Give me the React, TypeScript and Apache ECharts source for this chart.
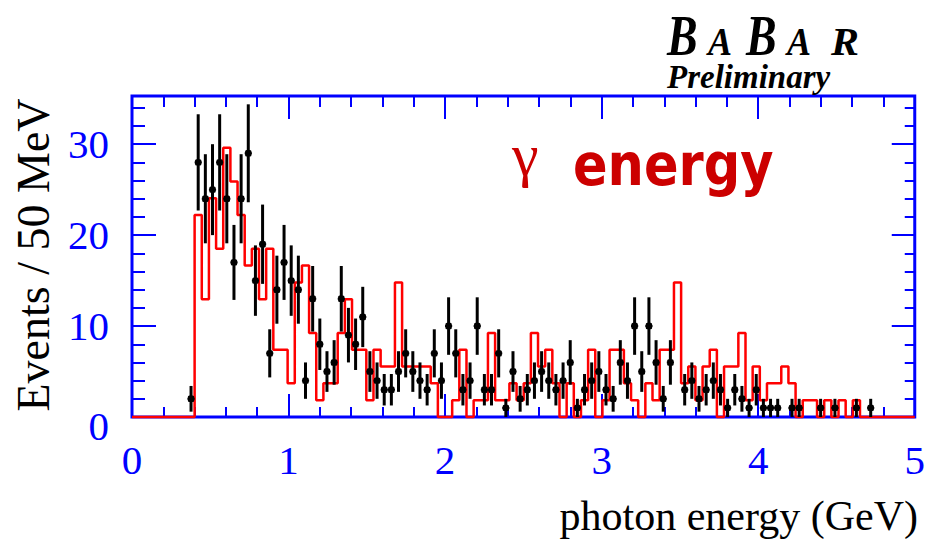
import { useEffect, useRef } from 'react';
import * as echarts from 'echarts';

const BLUE = '#0000ff';
const RED = '#ff0000';

// Binning of the photon-energy histograms (GeV)
const binStart = 0.4;
const binWidth = 0.0457;

// Observed events per bin; the first entry is the bin just below binStart
const dataCounts = [
  2,
  28, 24, 25, 28, 24, 17, 24, 29, 15, 19,
  7, 14, 17, 15, 14, 4, 13, 8, 5, 6,
  13, 9, 8, 11, 5, 4, 3, 3, 5, 7,
  5, 4, 3, 7, 4, 10, 7, 3, 4, 10,
  3, 3, 7, 1, 5, 2, 3, 4, 5, 4,
  3, 4, 6, 1, 3, 4, 5, 3, 2, 6,
  4, 10, 5, 10, 6, 2, 6, 0, 3, 4,
  2, 3, 4, 3, 1, 3, 2, 1, 3, 1,
  1, 1, 0, 1, 1, 0, 0, 1, 0, 1,
  0, 0, 1, 0, 1,
];

// Simulated (unscaled) entries per bin, starting at binStart
const mcCounts = [
  12, 7, 13, 10, 16, 14, 12, 9, 10, 7,
  10, 4, 4, 2, 8, 9, 5, 1, 2, 2,
  5, 7, 4, 4, 1, 4, 3, 3, 8, 3,
  3, 3, 3, 2, 0, 0, 1, 4, 0, 1,
  1, 5, 1, 1, 2, 1, 2, 5, 3, 4,
  2, 0, 2, 0, 1, 4, 0, 1, 4, 4,
  2, 1, 0, 2, 1, 4, 4, 8, 2, 3,
  1, 3, 4, 0, 3, 3, 5, 1, 3, 1,
  2, 2, 3, 2, 0, 1, 1, 0, 1, 0,
  1, 0, 1,
];
const mcScale = 1.85;

const xMin = 0;
const xMax = 5;
const yMin = 0;
const yMax = 35.3;

export default function App() {
  const ref = useRef<HTMLDivElement>(null);

  useEffect(() => {
    document.body.style.margin = '0';
    if (!ref.current) return;
    const chart = echarts.init(ref.current, undefined, { renderer: 'svg' });

    // step outline of the scaled simulation
    const histPoints: number[][] = [[xMin, 0]];
    mcCounts.forEach((c, i) => {
      histPoints.push([binStart + i * binWidth, c * mcScale]);
    });
    histPoints.push([binStart + mcCounts.length * binWidth, 0]);
    histPoints.push([xMax, 0]);

    // data points with Poisson errors
    const points = dataCounts
      .map((n, k) => [binStart + (k - 1 + 0.5) * binWidth, n, Math.sqrt(n)])
      .filter((p) => p[1] > 0);

    const tickStyle = { color: BLUE, width: 2 };
    const base = {
      type: 'value' as const,
      splitLine: { show: false },
      axisLine: { show: false, onZero: false },
      axisLabel: { show: false },
    };
    const labelFont = { color: BLUE, fontFamily: 'Liberation Serif', fontSize: 41 };

    const logoLetter = (text: string, x: number, big: boolean, sx: number) => ({
      type: 'text',
      x,
      y: big ? 36 : 41.5,
      scaleX: sx,
      style: {
        text,
        font: `italic bold ${big ? 56 : 40}px "Liberation Serif"`,
        lineHeight: big ? 40 : 28,
        fill: '#000',
        align: 'left',
        verticalAlign: 'middle',
      },
    });

    chart.setOption({
      animation: false,
      grid: {
        left: 132,
        top: 96,
        width: 786,
        height: 321,
        show: true,
        borderColor: BLUE,
        borderWidth: 3,
      },
      xAxis: [
        { ...base, min: xMin, max: xMax, interval: 0.2, position: 'bottom',
          axisTick: { inside: true, length: 10, lineStyle: tickStyle } },
        { ...base, min: xMin, max: xMax, interval: 1, position: 'bottom',
          axisTick: { inside: true, length: 23, lineStyle: tickStyle },
          axisLabel: { show: true, margin: 22, ...labelFont } },
        { ...base, min: xMin, max: xMax, interval: 0.2, position: 'top',
          axisTick: { inside: true, length: 11, lineStyle: tickStyle } },
        { ...base, min: xMin, max: xMax, interval: 1, position: 'top',
          axisTick: { inside: true, length: 23, lineStyle: tickStyle } },
      ],
      yAxis: [
        { ...base, min: yMin, max: yMax, interval: 2, position: 'left',
          axisTick: { inside: true, length: 13, lineStyle: tickStyle } },
        { ...base, min: yMin, max: yMax, interval: 10, position: 'left',
          axisTick: { inside: true, length: 24, lineStyle: tickStyle },
          axisLabel: {
            show: true,
            margin: 23,
            ...labelFont,
            formatter: (v: number) => (v === 0 ? '{z|0}' : v % 10 === 0 ? String(v) : ''),
            rich: { z: { ...labelFont, padding: [18, 0, 0, 0] } },
          } },
        { ...base, min: yMin, max: yMax, interval: 2, position: 'right',
          axisTick: { inside: true, length: 10, lineStyle: tickStyle } },
        { ...base, min: yMin, max: yMax, interval: 10, position: 'right',
          axisTick: { inside: true, length: 23, lineStyle: tickStyle } },
      ],
      series: [
        {
          type: 'line',
          xAxisIndex: 0,
          yAxisIndex: 0,
          data: histPoints,
          step: 'end',
          symbol: 'none',
          clip: false,
          lineStyle: { color: RED, width: 2.5 },
          z: 3,
        },
        {
          type: 'custom',
          xAxisIndex: 0,
          yAxisIndex: 0,
          data: points,
          z: 4,
          renderItem: (_params: any, api: any) => {
            const x = api.value(0);
            const y = api.value(1);
            const e = api.value(2);
            const c = api.coord([x, y]);
            const top = api.coord([x, y + e]);
            const bot = api.coord([x, Math.max(y - e, 0)]);
            const l = api.coord([x - binWidth * 0.5, y]);
            const r = api.coord([x + binWidth * 0.5, y]);
            const stroke = { stroke: '#000', lineWidth: 3 };
            return {
              type: 'group',
              children: [
                { type: 'line', shape: { x1: c[0], y1: top[1], x2: c[0], y2: bot[1] }, style: stroke },
                { type: 'line', shape: { x1: l[0], y1: c[1], x2: r[0], y2: c[1] }, style: { stroke: '#000', lineWidth: 2 } },
                { type: 'rect', shape: { x: c[0] - 3.2, y: c[1] - 3.2, width: 6.4, height: 6.4, r: 1.5 }, style: { fill: '#000' } },
              ],
            };
          },
        },
      ],
      graphic: [
        {
          type: 'text', x: 33, y: 255, rotation: Math.PI / 2,
          style: { text: 'Events / 50 MeV', font: '46px "Liberation Serif"', fill: '#000',
            align: 'center', verticalAlign: 'middle' },
        },
        {
          type: 'text', x: 918, y: 516,
          style: { text: 'photon energy (GeV)', font: '42px "Liberation Serif"', lineHeight: 34, fill: '#000',
            align: 'right', verticalAlign: 'middle' },
        },
        {
          type: 'text', x: 512, y: 155,
          style: { text: 'γ', font: '60px "Liberation Serif"', fill: '#cc0000',
            align: 'left', verticalAlign: 'middle' },
        },
        {
          type: 'text', x: 573, y: 165, scaleX: 0.88,
          style: { text: 'energy', font: 'bold 58px "DejaVu Sans"', fill: '#cc0000',
            align: 'left', verticalAlign: 'middle' },
        },
        {
          type: 'group',
          children: [
            logoLetter('B', 667, true, 0.82),
            logoLetter('A', 708, false, 0.9),
            logoLetter('B', 746, true, 0.82),
            logoLetter('A', 787, false, 0.9),
            logoLetter('R', 831, false, 1.05),
            {
              type: 'text', x: 667, y: 77,
              style: { text: 'Preliminary', font: 'italic bold 33px "Liberation Serif"', lineHeight: 24,
                fill: '#000', align: 'left', verticalAlign: 'middle' },
            },
          ],
        },
      ],
    });

    return () => chart.dispose();
  }, []);

  return <div ref={ref} style={{ width: 928, height: 541 }} />;
}
